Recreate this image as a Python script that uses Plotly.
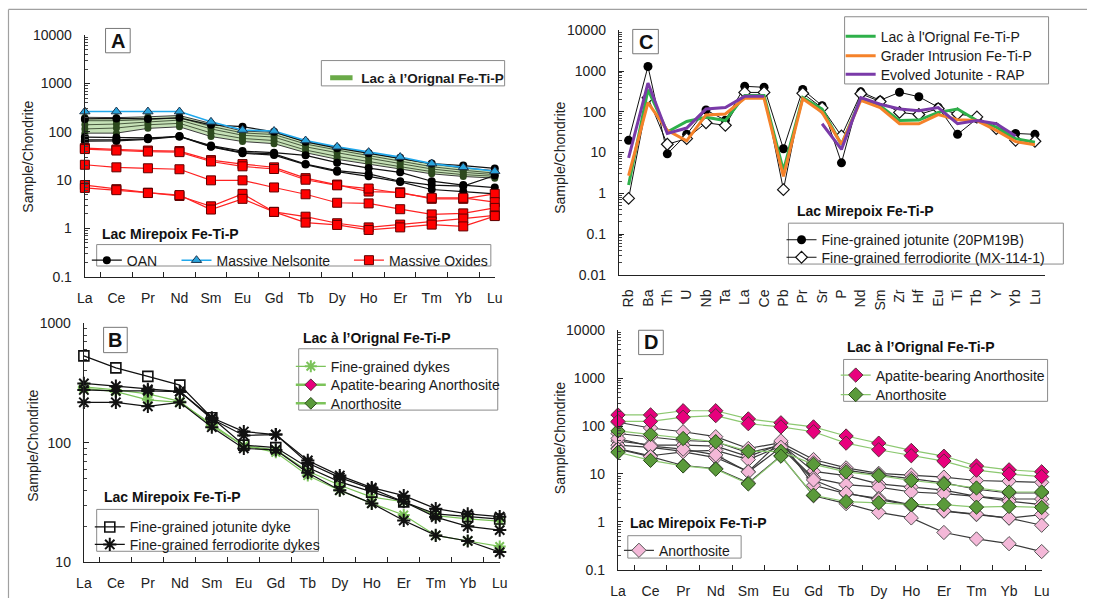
import plotly.graph_objects as go

# The page body keeps the browser's default 8 px margin, so the figure is drawn
# 8 px smaller and every reference pixel position is shifted by that offset.
OFF = 8
W, H = 1103 - OFF, 614 - OFF
FONT = "Liberation Sans, Arial, sans-serif"

REE = ["La", "Ce", "Pr", "Nd", "Sm", "Eu", "Gd", "Tb", "Dy", "Ho", "Er", "Tm", "Yb", "Lu"]
SPIDER = ["Rb", "Ba", "Th", "U", "Nb", "Ta", "La", "Ce", "Pb", "Pr", "Sr", "P", "Nd", "Sm",
          "Zr", "Hf", "Eu", "Ti", "Tb", "Y", "Yb", "Lu"]

# ---------------- Panel A ----------------
a_band_upper = [200, 197, 205, 218, 149, 104, 98, 63, 48, 37, 28.4, 21.5, 17.8, 15.8]
a_band_lower = [94, 94, 118, 127, 80, 63, 57, 37, 27, 21.5, 17, 13.5, 11.9, 11]
a_band_1 = [170, 170, 180, 195, 130, 95, 88, 56, 42, 32, 25, 19, 16, 14]
a_band_2 = [140, 145, 160, 175, 115, 85, 78, 49, 37, 28.5, 22, 17, 14.5, 13]
a_band_3 = [115, 120, 140, 150, 95, 73, 66, 42, 31, 24, 19, 15, 13, 12]
a_nelsonite = [263, 263, 263, 263, 161, 109, 104, 66, 49, 38, 30, 22, 18.4, 15.3]
a_oan_1 = [185, 190, 185, 195, 140, 128, 100, 62, 46, 36, 29, 22, 20, 17.5]
a_oan_2 = [78, 76, 75, 80, 52, 40, 37, 32.6, 23, 17.8, 14.5, 9.5, 7.9, 7.0]
a_oan_3 = [68, 68, 72, 82, 50, 37, 35, 21.5, 15.8, 13.5, 9.5, 7.9, 7.5, 12.5]
a_oan_4 = [64, 65, 70, 80, 49, 36, 33, 21, 15, 12, 9.2, 6.4, 5.8, 5.2]
a_ox_1 = [46, 43, 41, 40, 26, 21.5, 18.4, 11, 8.1, 5.8, 5.6, 4.1, 4.1, 5.2]
a_ox_2 = [44, 41, 39, 38, 24.3, 19.3, 17, 10.2, 7.8, 6.7, 5.4, 4.3, 4.3, 3.5]
a_ox_3 = [20.8, 18.4, 17.6, 16.8, 9.9, 9.9, 7.05, 5.1, 3.4, 3.3, 2.5, 1.95, 2.05, 2.66]
a_ox_4 = [7.9, 6.5, 5.5, 4.7, 2.87, 5.2, 2.2, 1.75, 1.28, 1.05, 1.2, 1.39, 1.6, 1.86]
a_ox_5 = [6.9, 6.2, 5.4, 4.9, 2.46, 4.1, 2.2, 1.32, 1.18, 0.93, 1.05, 1.2, 1.1, 1.8]

# ---------------- Panel B ----------------
b_jotunite = [535, 424, 360, 304, 162, 95.5, 91, 62, 47, 38.5, 31.9, 25.3, 24, 22.9]
b_ferro_1 = [314, 298, 280, 268, 162, 124, 117, 71, 53, 42, 36, 28, 25.3, 24]
b_ferro_2 = [277, 272, 272, 268, 158, 115, 117, 67.6, 51, 41, 32, 23.8, 19.9, 18.5]
b_ferro_3 = [218, 218, 202, 218, 135, 89.6, 87, 56, 40, 31, 22.3, 16.7, 15, 12.1]
b_green_1 = [294, 277, 257, 222, 139, 94, 83, 53, 39.7, 31, 24.8, 16.7, 15, 13.5]
b_green_2 = [285, 268, 229, 218, 143, 94, 87, 58, 44, 35, 32, 24.5, 23, 22]

# ---------------- Panel C ----------------
c_orignal = [1.6, 350, 32, 58, 74, 61, 253, 253, 3.6, 223, 117, 15.5, 215, 141, 61, 63, 97, 117, 61, 42, 22, 18]
c_grader = [2.7, 169, 35, 19.4, 84, 89, 215, 215, 2.6, 210, 97, 16, 192, 128, 51, 51, 86, 64, 61, 35, 18.6, 15.5]
c_rap = [7.4, 509, 29.5, 40, 117, 128, 240, 240, None, None, 51, 12, 223, 154, 117, 107, 128, 51, 61, 51, 25.5, None]
c_jotunite = [20, 1300, 9.3, 28, 111, 62, 424, 401, 12.4, 353, 141, 5.6, 310, 192, 302, 235, 130, 28, 68, 41, 29.5, 28]
c_ferro = [0.75, 223, 16, 22, 54, 46.6, 300, 300, 1.23, 285, 125, 25.5, 278, 179, 97, 86, 120, 89, 75, 39, 20, 19]

# ---------------- Panel D ----------------
d_apatite_1 = [171, 171, 209, 209, 141, 117, 96, 62, 44, 31, 23.5, 14.7, 12.2, 11.1]
d_apatite_2 = [125, 125, 153, 165, 112, 96, 76, 44, 32, 24, 18.6, 12, 10, 8.8]
d_anor_1 = [79, 67, 55, 47, 29.7, 29.7, 15.9, 11.1, 9.2, 7.3, 6.2, 5.1, 4.2, 4.2]
d_anor_2 = [28.4, 19.2, 14.7, 12.6, 6.2, 23.5, 3.6, 2.65, 2.5, 2.3, 2.3, 2.03, 2.1, 2.0]
d_mir_1 = [120, 91, 76, 60, 34, 45, 20, 13.4, 10.3, 9.5, 8.6, 7.3, 7.1, 6.7]
d_mir_2 = [70, 60, 50, 47, 27.5, 40, 17, 12, 9.6, 8, 6.5, 4.8, 4.0, 4.0]
d_mir_3 = [49, 40, 40, 38, 23, 42, 11.3, 9.2, 6.2, 5.3, 4.6, 3.4, 3.0, 3.0]
d_mir_4 = [40, 36, 29.7, 31, 20, 38, 8.3, 6.0, 5.3, 4.2, 3.9, 3.4, 2.7, 2.3]
d_mir_5 = [34, 24, 29, 22, 11.3, 49, 5.8, 3.9, 3.1, 2.3, 1.67, 1.42, 1.2, 1.42]
d_mir_6 = [55, 38, 33, 25, 11, 36, 7.5, 4.0, 2.9, 2.2, 1.7, 1.45, 1.2, 0.85]
d_mir_7 = [33, 23, 15, 13, 6.5, 24, 3.5, 2.4, 1.58, 1.21, 0.6, 0.44, 0.35, 0.24]


def px(x):
    return (x - OFF) / W


def py(y):
    return 1 - (y - OFF) / H


fig = go.Figure()
xi = list(range(len(REE)))
xs = list(range(len(SPIDER)))
legends = {}


def leg(text_left, center, size=14):
    return dict(x=px(text_left - 40), y=py(center - 12), xanchor="left", yanchor="top",
                bgcolor="rgba(0,0,0,0)", borderwidth=0, tracegroupgap=0, itemwidth=30,
                font=dict(family=FONT, size=size, color="#1a1a1a"))


def add(x, y, ax, name=None, pos=None, **kw):
    legend_name = None
    if pos is not None:
        legend_name = "legend" if not legends else f"legend{len(legends) + 1}"
        legends[legend_name] = leg(*pos)
    fig.add_trace(go.Scatter(x=x, y=y, xaxis="x" + ax, yaxis="y" + ax, name=name,
                             legend=legend_name, showlegend=pos is not None,
                             cliponaxis=False, **kw))


# ---- Panel A traces ----
add([None], [None], "", name="<b>Lac à l’Orignal Fe-Ti-P</b>", pos=(366, 76, 13.5), mode="markers",
    marker=dict(symbol="line-ew", size=16, color="#6aaa48", line=dict(color="#6aaa48", width=8)))
add(xi, a_band_lower, "", mode="lines+markers", line=dict(color="#3c3c3c", width=1),
    marker=dict(symbol="circle", size=7, color="#2d4a1e"))
add(xi, a_band_upper, "", mode="lines+markers", line=dict(color="#3c3c3c", width=1),
    marker=dict(symbol="circle", size=7, color="#2d4a1e"), fill="tonexty",
    fillcolor="rgba(160,205,135,0.6)")
for s in (a_band_1, a_band_2, a_band_3):
    add(xi, s, "", mode="lines+markers", line=dict(color="#4a5a40", width=1),
        marker=dict(symbol="circle", size=7, color="#2d4a1e"))
for i, s in enumerate((a_oan_1, a_oan_2, a_oan_3, a_oan_4)):
    add(xi, s, "", name="OAN", pos=(128, 263) if i == 0 else None, mode="lines+markers",
        line=dict(color="#111111", width=1.2), marker=dict(symbol="circle", size=8, color="#000000"))
add(xi, a_nelsonite, "", name="Massive Nelsonite", pos=(219, 263), mode="lines+markers",
    line=dict(color="#20a8ec", width=1.6),
    marker=dict(symbol="triangle-up", size=9, color="#2aa4dc", line=dict(color="#1b3550", width=1)))
for i, s in enumerate((a_ox_1, a_ox_2, a_ox_3, a_ox_4, a_ox_5)):
    add(xi, s, "", name="Massive Oxides", pos=(394, 263) if i == 0 else None, mode="lines+markers",
        line=dict(color="#ff2222", width=1.2),
        marker=dict(symbol="square", size=9, color="#ff0000", line=dict(color="#600000", width=1)))

# ---- Panel B traces ----
for i, s in enumerate((b_green_1, b_green_2)):
    add(xi, s, "2", name="Fine-grained dykes", pos=(335, 372) if i == 0 else None,
        mode="lines+markers", line=dict(color="#7cc35a", width=1.2),
        marker=dict(symbol="asterisk-open", size=10, color="#7cc35a", line=dict(color="#7cc35a", width=2)))
add([None], [None], "2", name="Apatite-bearing Anorthosite", pos=(335, 391),
    mode="lines+markers", line=dict(color="#7cc35a", width=2.5),
    marker=dict(symbol="diamond", size=9, color="#e8007d", line=dict(color="#5a2a3a", width=1)))
add([None], [None], "2", name="Anorthosite", pos=(335, 410),
    mode="lines+markers", line=dict(color="#7cc35a", width=2.5),
    marker=dict(symbol="diamond", size=9, color="#5a9a3a", line=dict(color="#2a4a1a", width=1)))
add(xi, b_jotunite, "2", name="Fine-grained jotunite dyke", pos=(131, 537),
    mode="lines+markers", line=dict(color="#111111", width=1.2),
    marker=dict(symbol="square-open", size=10, color="#111111", line=dict(color="#111111", width=1.6)))
for i, s in enumerate((b_ferro_1, b_ferro_2, b_ferro_3)):
    add(xi, s, "2", name="Fine-grained ferrodiorite dykes", pos=(131, 555) if i == 0 else None,
        mode="lines+markers", line=dict(color="#111111", width=1.2),
        marker=dict(symbol="asterisk-open", size=11, color="#111111", line=dict(color="#111111", width=2)))

# ---- Panel C traces ----
add(xs, c_jotunite, "3", name="Fine-grained jotunite (20PM19B)", pos=(833, 242),
    mode="lines+markers", line=dict(color="#111111", width=1),
    marker=dict(symbol="circle", size=9, color="#000000"))
add(xs, c_ferro, "3", name="Fine-grained ferrodiorite (MX-114-1)", pos=(833, 260),
    mode="lines+markers", line=dict(color="#111111", width=1),
    marker=dict(symbol="diamond", size=9, color="#ffffff", line=dict(color="#111111", width=1.2)))
add(xs, c_orignal, "3", name="Lac à l'Orignal Fe-Ti-P", pos=(893, 33), mode="lines",
    line=dict(color="#2eb04a", width=3))
add(xs, c_grader, "3", name="Grader Intrusion Fe-Ti-P", pos=(893, 53), mode="lines",
    line=dict(color="#f5822a", width=3))
add(xs, c_rap, "3", name="Evolved Jotunite - RAP", pos=(893, 72), mode="lines",
    line=dict(color="#7a3aa8", width=3))

# ---- Panel D traces ----
for i, s in enumerate((d_mir_1, d_mir_2, d_mir_3, d_mir_4, d_mir_5, d_mir_6, d_mir_7)):
    add(xi, s, "4", name="Anorthosite", pos=(668, 561) if i == 0 else None, mode="lines+markers",
        line=dict(color="#3a3a3a", width=1.2),
        marker=dict(symbol="diamond", size=11, color="#f4b8d8", line=dict(color="#555555", width=1)))
for i, s in enumerate((d_anor_1, d_anor_2)):
    add(xi, s, "4", name="Anorthosite", pos=(888, 401) if i == 0 else None,
        mode="lines+markers", line=dict(color="#8cc870", width=1.2),
        marker=dict(symbol="diamond", size=11, color="#5a9a3a", line=dict(color="#2a4a1a", width=1)))
for i, s in enumerate((d_apatite_1, d_apatite_2)):
    add(xi, s, "4", name="Apatite-bearing Anorthosite", pos=(888, 381) if i == 0 else None,
        mode="lines+markers", line=dict(color="#8cc870", width=1.2),
        marker=dict(symbol="diamond", size=11, color="#e8007d", line=dict(color="#5a2a3a", width=1)))

# ---------------- axes ----------------
LAB = {0.01: "0.01", 0.1: "0.1", 1: "1", 10: "10", 100: "100", 1000: "1000", 10000: "10000"}


def yax(top, bottom, lo, hi, anchor):
    vals = [10 ** e for e in range(lo, hi + 1)]
    minor = [k * 10 ** e for e in range(lo, hi) for k in range(2, 10)]
    return dict(type="log", domain=[py(bottom), py(top)], range=[lo, hi], anchor=anchor,
                tickvals=vals, ticktext=[LAB[round(v, 2) if v < 1 else int(v)] for v in vals],
                ticks="inside", ticklen=5, tickcolor="#222", tickwidth=1,
                showline=True, linecolor="#222", linewidth=1.3, showgrid=False, zeroline=False,
                ticklabelstandoff=9, tickfont=dict(family=FONT, size=14, color="#222"),
                minor=dict(tickvals=minor, ticks="inside", ticklen=3, tickcolor="#444", showgrid=False))


def xax(left, right, rng, labels, anchor, minor=True, angle=0):
    d = dict(domain=[px(left), px(right)], range=rng, anchor=anchor,
             tickvals=list(range(len(labels))), ticktext=labels, ticks="", ticklen=0,
             showline=True, linecolor="#222", linewidth=1.3, showgrid=False, zeroline=False,
             tickangle=angle, ticklabelstandoff=8,
             tickfont=dict(family=FONT, size=14, color="#222"))
    if minor:
        d["minor"] = dict(tickvals=[i + 0.5 for i in range(len(labels) - 1)], ticks="inside",
                          ticklen=5, tickcolor="#222", showgrid=False)
    return d


layout = dict(
    width=W, height=H, margin=dict(l=0, r=0, t=0, b=0),
    paper_bgcolor="white", plot_bgcolor="rgba(0,0,0,0)",
    font=dict(family=FONT, color="#222"),
    xaxis=xax(86, 502, [0, 13], REE, "y"),
    yaxis=yax(36, 284, -1, 4, "x"),
    xaxis2=xax(85, 507, [0, 13], REE, "y2"),
    yaxis2=yax(332, 577, 1, 3, "x2"),
    xaxis3=xax(628, 1060, [-0.5, 21.5], SPIDER, "y3", minor=False, angle=-90),
    yaxis3=yax(31, 282, -2, 4, "x3"),
    xaxis4=xax(627, 1057, [0, 13], REE, "y4"),
    yaxis4=yax(339, 585, -1, 4, "x4"),
)
layout.update(legends)

shapes = []


def box(x0, y0, x1, y1, color="#8a8a8a"):
    shapes.append(dict(type="rect", xref="paper", yref="paper", x0=px(x0), x1=px(x1),
                       y0=py(y1), y1=py(y0), line=dict(color=color, width=1),
                       fillcolor="white", layer="below"))


# outer frame lines
shapes.append(dict(type="line", xref="paper", yref="paper", x0=px(8.5), x1=1, y0=py(9.5), y1=py(9.5),
                   line=dict(color="#a0a0a0", width=1.2)))
shapes.append(dict(type="line", xref="paper", yref="paper", x0=px(8.5), x1=px(8.5), y0=0, y1=py(9.5),
                   line=dict(color="#a0a0a0", width=1.2)))
# legend boxes
box(326, 62, 512, 88)
box(98, 251, 498, 273)
box(303, 358, 505, 421)
box(98, 523, 323, 566)
box(857, 17, 1064, 86)
box(800, 229, 1079, 271)
box(856, 369, 1063, 412)
box(637, 550, 752, 573)
# panel letter boxes
letters = [("A", 107, 29, 132, 54), ("B", 105, 336, 129, 362), ("C", 642, 30, 668, 55),
           ("D", 648, 339, 673, 364)]
for _, x0, y0, x1, y1 in letters:
    box(x0, y0, x1, y1, "#777777")

annotations = []
for t, x0, y0, x1, y1 in letters:
    annotations.append(dict(text=f"<b>{t}</b>", x=px((x0 + x1) / 2), y=py((y0 + y1) / 2),
                            xref="paper", yref="paper", showarrow=False, xanchor="center",
                            yanchor="middle", font=dict(family=FONT, size=20, color="#111")))


def title(text, x, y):
    annotations.append(dict(text=f"<b>{text}</b>", x=px(x), y=py(y), xref="paper", yref="paper",
                            showarrow=False, xanchor="left", yanchor="middle",
                            font=dict(family=FONT, size=14, color="#111")))


title("Lac Mirepoix Fe-Ti-P", 101, 240)
title("Lac à l’Orignal Fe-Ti-P", 305, 347)
title("Lac Mirepoix Fe-Ti-P", 103, 510)
title("Lac Mirepoix Fe-Ti-P", 807, 217)
title("Lac à l’Orignal Fe-Ti-P", 857, 356)
title("Lac Mirepoix Fe-Ti-P", 637, 537)

for x, y in ((28, 161), (33, 458), (568, 162), (569, 450)):
    annotations.append(dict(text="Sample/Chondrite", x=px(x), y=py(y), xref="paper", yref="paper",
                            showarrow=False, textangle=-90, xanchor="center", yanchor="middle",
                            font=dict(family=FONT, size=14, color="#222")))

layout["shapes"] = shapes
layout["annotations"] = annotations
fig.update_layout(**layout)
fig.write_html("out.html")
